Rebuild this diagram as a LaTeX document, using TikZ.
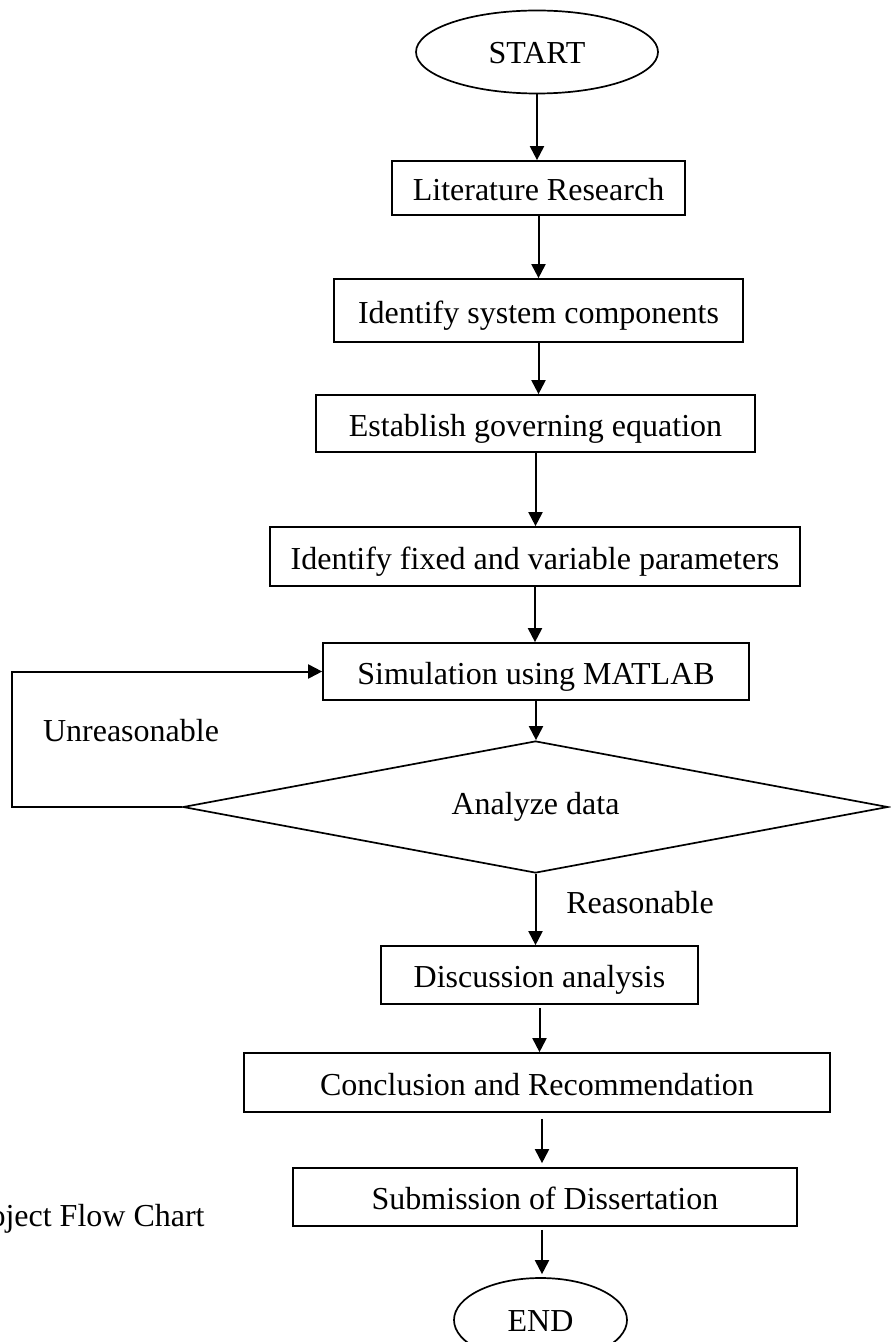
\documentclass[tikz,border=0pt]{standalone}
\usepackage{fontspec}
\setmainfont{Liberation Serif}
\usetikzlibrary{shapes.geometric,arrows.meta}
\begin{document}
\begin{tikzpicture}[x=0.5pt,y=-0.5pt,
  font=\fontsize{16}{19}\selectfont,
  box/.style={draw, line width=0.85pt, rectangle, inner sep=0pt, text height=12.5pt, text depth=0pt},
  term/.style={draw, line width=0.85pt, ellipse, inner sep=0pt, text height=11.5pt, text depth=0pt},
  dia/.style={draw, line width=0.85pt, diamond, aspect=5.34, inner sep=0pt},
  arr/.style={line width=1pt, -{Triangle[length=7pt,width=7pt]}},
  lbl/.style={inner sep=0pt}]
\useasboundingbox (0,0) rectangle (890,1342);

\node[term, minimum width=121pt, minimum height=41.5pt] (start) at (537,52) {START};
\node[box, minimum width=146.5pt, minimum height=27pt] (lit) at (538.5,188) {Literature Research};
\node[box, minimum width=204.5pt, minimum height=31.5pt] (comp) at (538.5,310.5) {Identify system components};
\node[box, minimum width=219.5pt, minimum height=28.5pt] (gov) at (535.5,423.5) {Establish governing equation};
\node[box, minimum width=265pt, minimum height=29.5pt] (fix) at (535,556.5) {Identify fixed and variable parameters};
\node[box, minimum width=213pt, minimum height=28.5pt] (sim) at (536,671.5) {Simulation using MATLAB};
\node[dia, minimum width=352.5pt, minimum height=66pt] (dec) at (535.5,807) {Analyze data};
\node[box, minimum width=158.5pt, minimum height=29pt] (disc) at (539.5,975) {Discussion analysis};
\node[box, minimum width=293pt, minimum height=29.5pt] (conc) at (537,1082.5) {Conclusion and Recommendation};
\node[box, minimum width=252pt, minimum height=29pt] (sub) at (545,1197) {Submission of Dissertation};
\node[term, minimum width=86.5pt, minimum height=42pt] (end) at (540.5,1320) {END};

\node[lbl] (unr) at (131,731) {Unreasonable};
\node[lbl] (rea) at (640,903) {Reasonable};
\node[lbl, anchor=base east] (cap) at (205,1226) {Project Flow Chart};

\coordinate (lp) at (12,671.5);

\draw[arr] (start.south) -- (start.south |- lit.north);
\draw[arr] (lit.south) -- (lit.south |- comp.north);
\draw[arr] (comp.south) -- (comp.south |- gov.north);
\draw[arr] (gov.south) -- (gov.south |- fix.north);
\draw[arr] (fix.south) -- (fix.south |- sim.north);
\draw[arr] (sim.south) -- (sim.south |- dec.north);
\draw[arr] (dec.south) -- (dec.south |- disc.north);
\draw[arr, shorten <=1.5pt] (disc.south) -- (disc.south |- conc.north);
\draw[arr, shorten <=3pt, shorten >=2pt] ([xshift=2.5pt]conc.south) -- ([xshift=2.5pt]conc.south |- sub.north);
\draw[arr, shorten <=1.5pt, shorten >=1.5pt] ([xshift=-1.5pt]sub.south) -- ([xshift=-1.5pt]sub.south |- end.north);
\draw[arr, line join=miter] (dec.west) -| (lp) -- (sim.west);
\end{tikzpicture}
\end{document}
